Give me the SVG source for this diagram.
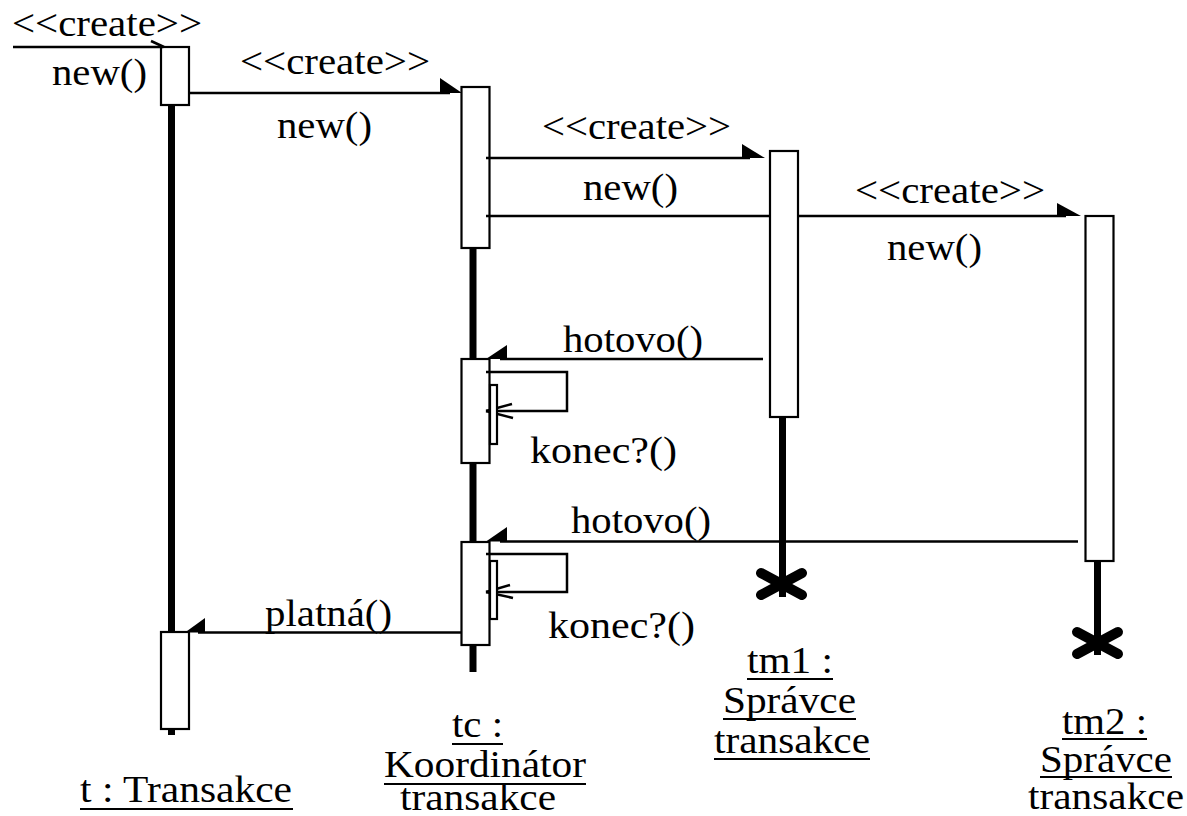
<svg xmlns="http://www.w3.org/2000/svg" width="1187" height="816" viewBox="0 0 1187 816" font-family="'Liberation Serif','DejaVu Serif','Noto Serif',serif">
<style>
text{font-family:"Liberation Serif","DejaVu Serif","Noto Serif",serif;font-size:37px;fill:#000}
.life{stroke:#000;stroke-width:7;fill:none}
.act{fill:#fff;stroke:#000;stroke-width:2.2}
.msg{stroke:#000;stroke-width:2.5;fill:none}
.ul{stroke:#000;stroke-width:2.2}
.head{fill:#000;stroke:none}
.x{stroke:#000;stroke-width:10;stroke-linecap:round}
</style>
<rect width="1187" height="816" fill="#fff"/>
<g id="t">
  <line class="life" x1="171.5" y1="104" x2="171.5" y2="633"/>
  <line class="life" x1="171.5" y1="728" x2="171.5" y2="735"/>
  <rect class="act" x="161" y="47" width="28" height="58"/>
  <rect class="act" x="161" y="632" width="28" height="97"/>
  <text x="80" y="802" textLength="212" lengthAdjust="spacingAndGlyphs">t : Transakce</text>
  <line class="ul" x1="80" y1="809" x2="293" y2="809"/>
</g>
<g id="tc">
  <line class="life" x1="473" y1="248" x2="473" y2="672"/>
  <rect class="act" x="461.5" y="87" width="28" height="161"/>
  <rect class="act" x="461.5" y="359" width="28" height="104"/>
  <rect class="act" x="461.5" y="542" width="28" height="103"/>
  <text x="452" y="737" textLength="51" lengthAdjust="spacingAndGlyphs">tc :</text>
  <line class="ul" x1="452" y1="744" x2="503" y2="744"/>
  <text x="384" y="777" textLength="202" lengthAdjust="spacingAndGlyphs">Koordinátor</text>
  <line class="ul" x1="384" y1="784" x2="586" y2="784"/>
  <text x="400" y="810" textLength="156" lengthAdjust="spacingAndGlyphs">transakce</text>
</g>
<g id="connectors">
  <line class="msg" x1="13" y1="47" x2="163" y2="47"/>
  <line class="msg" x1="151" y1="41" x2="164" y2="47"/>
  <text x="12" y="36" textLength="190" lengthAdjust="spacingAndGlyphs">&lt;&lt;create&gt;&gt;</text>
  <text x="52" y="85" textLength="95" lengthAdjust="spacingAndGlyphs">new()</text>

  <line class="msg" x1="189" y1="93" x2="450" y2="93"/>
  <polygon class="head" points="440,78 462,93 440,93"/>
  <text x="240" y="74" textLength="190" lengthAdjust="spacingAndGlyphs">&lt;&lt;create&gt;&gt;</text>
  <text x="277" y="138" textLength="95" lengthAdjust="spacingAndGlyphs">new()</text>

  <line class="msg" x1="486" y1="158" x2="750" y2="158"/>
  <polygon class="head" points="742,144 765,158 742,158"/>
  <text x="542" y="139" textLength="189" lengthAdjust="spacingAndGlyphs">&lt;&lt;create&gt;&gt;</text>
  <text x="583" y="200" textLength="95" lengthAdjust="spacingAndGlyphs">new()</text>

  <line class="msg" x1="486" y1="216" x2="1066" y2="216"/>
  <polygon class="head" points="1057,203 1081,216 1057,216"/>
  <text x="855" y="203" textLength="190" lengthAdjust="spacingAndGlyphs">&lt;&lt;create&gt;&gt;</text>
  <text x="887" y="260" textLength="95" lengthAdjust="spacingAndGlyphs">new()</text>

  <line class="msg" x1="500" y1="359" x2="763" y2="359"/>
  <polygon class="head" points="486,359 507,345 507,359"/>
  <text x="563" y="352" textLength="140" lengthAdjust="spacingAndGlyphs">hotovo()</text>

  <path class="msg" d="M486,372 H567 V411 H486"/>
  <line class="msg" x1="486" y1="411" x2="512" y2="404"/>
  <line class="msg" x1="486" y1="411" x2="513" y2="418"/>
  <text x="530" y="463" textLength="147" lengthAdjust="spacingAndGlyphs">konec?()</text>

  <line class="msg" x1="500" y1="541.5" x2="1078" y2="541.5"/>
  <polygon class="head" points="486,541.5 507,527 507,541.5"/>
  <text x="571" y="533" textLength="140" lengthAdjust="spacingAndGlyphs">hotovo()</text>

  <path class="msg" d="M486,554 H567 V592 H486"/>
  <line class="msg" x1="486" y1="592" x2="510" y2="585"/>
  <line class="msg" x1="486" y1="592" x2="513" y2="598"/>
  <text x="548" y="638" textLength="147" lengthAdjust="spacingAndGlyphs">konec?()</text>

  <line class="msg" x1="198" y1="632.5" x2="461" y2="632.5"/>
  <polygon class="head" points="185,632.5 205,618 205,632.5"/>
  <text x="265" y="626" textLength="127" lengthAdjust="spacingAndGlyphs">platná()</text>

  <rect class="act" x="490" y="385" width="7" height="59"/>
  <rect class="act" x="490" y="561" width="7" height="58"/>
</g>
<g id="tm1">
  <line class="life" x1="782.5" y1="416" x2="782.5" y2="597"/>
  <rect class="act" x="770" y="151" width="28" height="266"/>
  <line class="x" x1="761" y1="573" x2="802" y2="595"/>
  <line class="x" x1="761" y1="595" x2="802" y2="573"/>
  <text x="747" y="673" textLength="86" lengthAdjust="spacingAndGlyphs">tm1 :</text>
  <line class="ul" x1="747" y1="679" x2="833" y2="679"/>
  <text x="723" y="713" textLength="133" lengthAdjust="spacingAndGlyphs">Správce</text>
  <line class="ul" x1="723" y1="719" x2="856" y2="719"/>
  <text x="714" y="753" textLength="156" lengthAdjust="spacingAndGlyphs">transakce</text>
  <line class="ul" x1="714" y1="759" x2="870" y2="759"/>
</g>
<g id="tm2">
  <line class="life" x1="1097.5" y1="560" x2="1097.5" y2="655"/>
  <rect class="act" x="1085.5" y="216" width="28" height="345"/>
  <line class="x" x1="1077" y1="632" x2="1118" y2="654"/>
  <line class="x" x1="1077" y1="654" x2="1118" y2="632"/>
  <text x="1062" y="734" textLength="85" lengthAdjust="spacingAndGlyphs">tm2 :</text>
  <line class="ul" x1="1062" y1="739" x2="1147" y2="739"/>
  <text x="1040" y="772" textLength="132" lengthAdjust="spacingAndGlyphs">Správce</text>
  <line class="ul" x1="1040" y1="777" x2="1172" y2="777"/>
  <text x="1028" y="809" textLength="156" lengthAdjust="spacingAndGlyphs">transakce</text>
</g>
</svg>
